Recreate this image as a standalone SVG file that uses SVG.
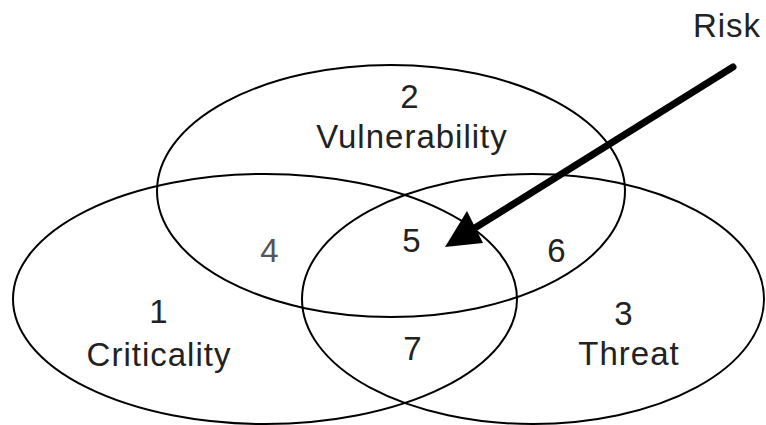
<svg xmlns="http://www.w3.org/2000/svg" width="766" height="425" viewBox="0 0 766 425">
<style>
.set{fill:none;stroke:#000;stroke-width:2}
.t{font-family:"Liberation Sans",Arial,sans-serif;font-size:33px;fill:#222;text-anchor:middle;letter-spacing:1px}
</style>
<rect width="766" height="425" fill="#fff"/>
<g id="vulnerability">
<ellipse class="set" cx="391" cy="191" rx="234" ry="126"/>
<text class="t" x="410" y="108">2</text>
<text class="t" x="412" y="148">Vulnerability</text>
</g>
<g id="criticality">
<ellipse class="set" cx="265" cy="299" rx="252" ry="125"/>
<text class="t" x="159" y="323">1</text>
<text class="t" x="159" y="366">Criticality</text>
</g>
<g id="threat">
<ellipse class="set" cx="533" cy="299" rx="231" ry="125"/>
<text class="t" x="624" y="325">3</text>
<text class="t" x="629" y="365">Threat</text>
</g>
<g id="regions">
<text class="t" x="270" y="262" style="fill:#555">4</text>
<text class="t" x="412" y="252">5</text>
<text class="t" x="557" y="262">6</text>
<text class="t" x="413" y="360">7</text>
</g>
<g id="risk">
<text class="t" x="727" y="37">Risk</text>
</g>
<g id="connectors">
<line x1="733" y1="67" x2="470" y2="231" stroke="#000" stroke-width="7" stroke-linecap="round"/>
<polygon points="445,247 467,211 483,243" fill="#000"/>
</g>
</svg>
